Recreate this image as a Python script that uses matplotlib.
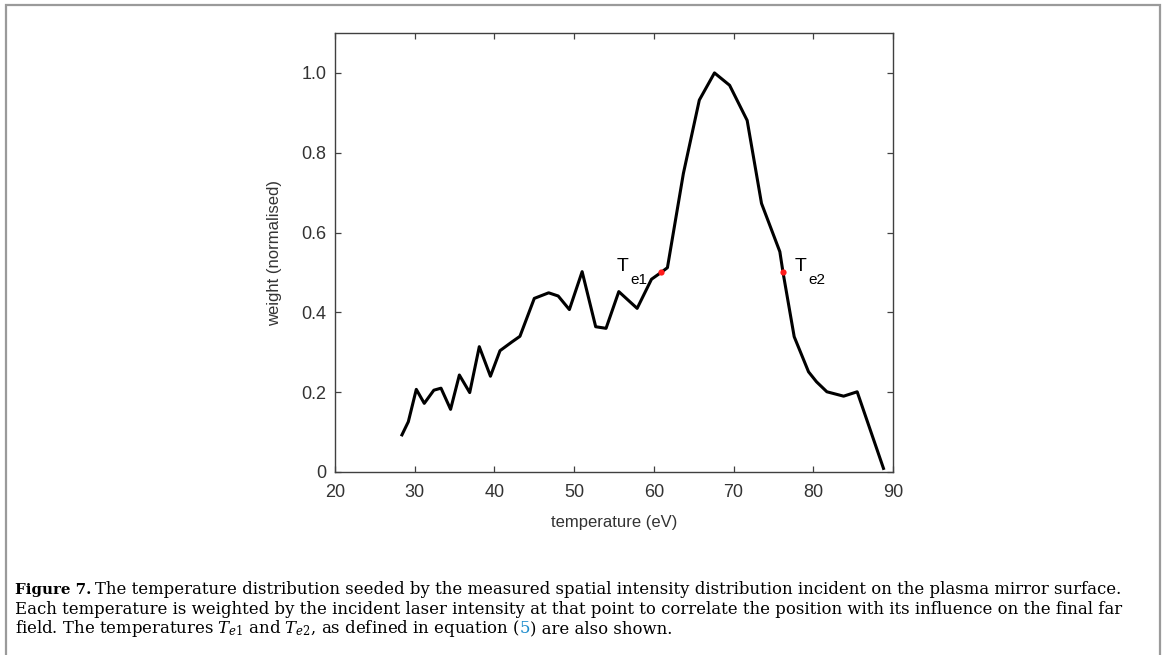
import matplotlib
matplotlib.use("Agg")
import matplotlib.pyplot as plt
from matplotlib.patches import Rectangle

temperature = [28.4, 29.2, 30.2, 31.2, 32.4, 33.3, 34.5, 35.6, 36.9, 38.1, 39.5, 40.7,
               42.2, 43.2, 45.0, 46.8, 48.0, 49.4, 51.0, 52.7, 54.0, 55.6, 57.9, 59.7,
               60.9, 61.7, 63.7, 65.7, 67.6, 69.5, 71.7, 73.5, 75.8, 76.2, 77.6, 79.4,
               80.4, 81.7, 83.8, 85.5, 88.8]
weight = [0.093, 0.126, 0.207, 0.172, 0.205, 0.210, 0.157, 0.243, 0.199, 0.314, 0.240, 0.304,
          0.326, 0.340, 0.435, 0.449, 0.441, 0.407, 0.502, 0.364, 0.360, 0.452, 0.410, 0.483,
          0.500, 0.512, 0.748, 0.932, 1.000, 0.969, 0.881, 0.673, 0.552, 0.500, 0.339, 0.251,
          0.226, 0.201, 0.190, 0.201, 0.009]

te_temps = [60.9, 76.2]
te_weights = [0.5, 0.5]
te_subs = ["e1", "e2"]

x_ticks = [20, 30, 40, 50, 60, 70, 80, 90]
y_ticks = [0, 0.2, 0.4, 0.6, 0.8, 1.0]
y_ticklabels = ["0", "0.2", "0.4", "0.6", "0.8", "1.0"]

sans = "Liberation Sans"
serif = "DejaVu Serif"
txt_col = "#333333"

plt.rcParams["mathtext.fontset"] = "custom"
plt.rcParams["mathtext.rm"] = "DejaVu Serif"
plt.rcParams["mathtext.it"] = "DejaVu Serif:italic"
plt.rcParams["mathtext.bf"] = "DejaVu Serif:bold"

fig = plt.figure(figsize=(11.68, 6.55), dpi=100)

# outer frame
fig.patches.append(Rectangle((0.0051, -0.02), 0.988, 1.012, transform=fig.transFigure,
                             fill=False, edgecolor="#9a9a9a", linewidth=1.6))

ax = fig.add_axes([0.2868, 0.2794, 0.4778, 0.6702])
ax.plot(temperature, weight, color="black", linewidth=2.2, solid_joinstyle="round")
ax.plot(te_temps, te_weights, linestyle="none", marker="o", markersize=4.5,
        color="#ff1a1a", markeredgewidth=0)

ax.set_xlim(20, 90)
ax.set_ylim(0, 1.1)
ax.set_xticks(x_ticks)
ax.set_yticks(y_ticks)
ax.set_yticklabels(y_ticklabels)
ax.tick_params(axis="both", direction="in", length=4, width=0.9, top=True, right=True,
               labelsize=13, labelcolor=txt_col, color="#404040")
ax.tick_params(axis="x", pad=9)
ax.tick_params(axis="y", pad=6)
for lab in ax.get_xticklabels() + ax.get_yticklabels():
    lab.set_family(sans)
for sp in ax.spines.values():
    sp.set_color("#404040")
    sp.set_linewidth(1.0)

ax.set_xlabel("temperature (eV)", family=sans, fontsize=12, color=txt_col, labelpad=10)
ax.set_ylabel("weight (normalised)", family=sans, fontsize=12, color=txt_col, labelpad=14)

# T_e labels
offsets = [(-44, -12), (12, -12)]
for t, w, sub, (dx, dy) in zip(te_temps, te_weights, te_subs, offsets):
    ax.annotate("T", xy=(t, w), xytext=(dx, 1), textcoords="offset pixels",
                family=sans, fontsize=14, color="black", ha="left", va="baseline")
    ax.annotate(sub, xy=(t, w), xytext=(dx + 13, dy), textcoords="offset pixels",
                family=sans, fontsize=11, color="black", ha="left", va="baseline")

# caption
fs = 11.9
fsb = 10.8
y1 = 1 - 594 / 655
dy = 19.5 / 655
x0 = 15 / 1168
r = fig.canvas.get_renderer()
t = fig.text(x0, y1, "Figure 7.", family=serif, fontsize=fsb, fontweight="bold",
             ha="left", va="baseline")
bb = t.get_window_extent(r)
fig.text((bb.x1 + 4) / 1168, y1,
         "The temperature distribution seeded by the measured spatial intensity distribution incident on the plasma mirror surface.",
         family=serif, fontsize=fs, ha="left", va="baseline")
fig.text(x0, y1 - dy,
         "Each temperature is weighted by the incident laser intensity at that point to correlate the position with its influence on the final far",
         family=serif, fontsize=fs, ha="left", va="baseline")
t3 = fig.text(x0, y1 - 2 * dy,
              r"field. The temperatures $T_{e\mathrm{1}}$ and $T_{e\mathrm{2}}$, as defined in equation (",
              family=serif, fontsize=fs, ha="left", va="baseline")
bb3 = t3.get_window_extent(r)
t5 = fig.text(bb3.x1 / 1168, y1 - 2 * dy, "5", family=serif, fontsize=fs,
              color="#1e8ccc", ha="left", va="baseline")
bb5 = t5.get_window_extent(r)
fig.text(bb5.x1 / 1168, y1 - 2 * dy, ") are also shown.", family=serif, fontsize=fs,
         ha="left", va="baseline")

fig.savefig("out.png", dpi=100)
